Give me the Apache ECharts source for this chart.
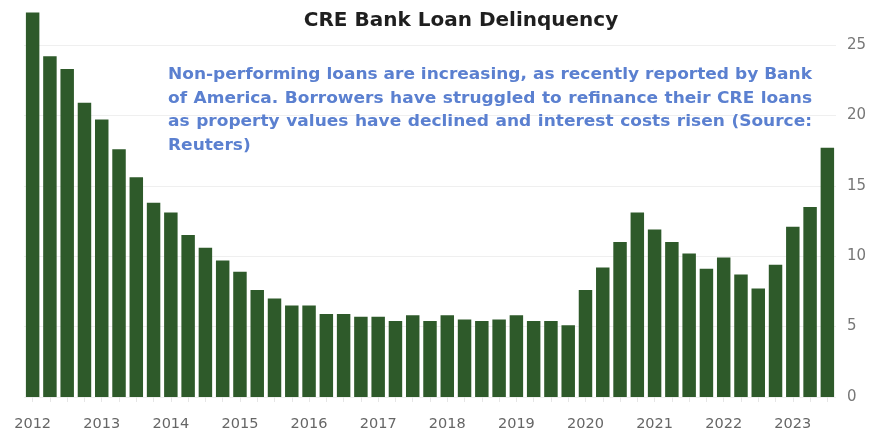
<!DOCTYPE html>
<html>
<head>
<meta charset="utf-8">
<title>CRE Bank Loan Delinquency</title>
<script src="https://cdn.jsdelivr.net/npm/echarts@6/dist/echarts.min.js"></script>
<style>
  html, body { margin: 0; padding: 0; background: #ffffff; }
  #chart { width: 891px; height: 435px; }
</style>
</head>
<body>
<div id="chart"></div>
<script>
// Quarterly CRE bank loan delinquency, 2012 Q1 to 2023 Q3
const years = [2012, 2013, 2014, 2015, 2016, 2017, 2018, 2019, 2020, 2021, 2022, 2023];
const quarters = ['Q1', 'Q2', 'Q3', 'Q4'];
const delinquency = [
  27.3, 24.2, 23.3, 20.9, 19.7, 17.6, 15.6, 13.8, 13.1, 11.5,
  10.6, 9.7, 8.9, 7.6, 7.0, 6.5, 6.5, 5.9, 5.9, 5.7,
  5.7, 5.4, 5.8, 5.4, 5.8, 5.5, 5.4, 5.5, 5.8, 5.4,
  5.4, 5.1, 7.6, 9.2, 11.0, 13.1, 11.9, 11.0, 10.2, 9.1,
  9.9, 8.7, 7.7, 9.4, 12.1, 13.5, 17.7
];
const yTicks = [0, 5, 10, 15, 20, 25];

const titleText = 'CRE Bank Loan Delinquency';
const noteLines = [
  'Non-performing loans are increasing, as recently reported by Bank',
  'of America. Borrowers have struggled to refinance their CRE loans',
  'as property values have declined and interest costs risen (Source:',
  'Reuters)'
];

// one category per quarter, labelled by year
const categories = [];
years.forEach(y => quarters.forEach(q => {
  if (categories.length < delinquency.length) categories.push(y + ' ' + q);
}));

// justified, slightly widened note text, laid out word by word
const noteFont = 'bold 15px "DejaVu Sans"';
const measureCtx = document.createElement('canvas').getContext('2d');
measureCtx.font = noteFont;
function noteGraphics(x0, x1, yStart, lineGap) {
  const space = measureCtx.measureText(' ').width;
  const natural = measureCtx.measureText(noteLines[0]).width;
  const sx = (x1 - x0) / natural;
  const out = [];
  noteLines.forEach((line, li) => {
    const words = line.split(' ');
    const widths = words.map(w => measureCtx.measureText(w).width * sx);
    const total = widths.reduce((a, b) => a + b, 0);
    const last = li === noteLines.length - 1;
    const gap = last ? space * sx : (x1 - x0 - total) / (words.length - 1);
    let x = x0;
    words.forEach((w, wi) => {
      out.push({
        type: 'text',
        x: x,
        y: yStart + li * lineGap,
        scaleX: sx,
        z: 100,
        silent: true,
        style: { text: w, font: noteFont, fill: '#5b80d0', verticalAlign: 'middle', align: 'left' }
      });
      x += widths[wi] + gap;
    });
  });
  return out;
}

const chart = echarts.init(document.getElementById('chart'), null, { renderer: 'canvas' });
chart.setOption({
  backgroundColor: '#ffffff',
  animation: false,
  title: {
    text: titleText,
    left: 456,
    top: 6,
    textAlign: 'center',
    textStyle: { fontFamily: 'DejaVu Sans', fontWeight: 'bold', fontSize: 20, color: '#1f1f1f' }
  },
  grid: { left: 24, right: 55, top: 45, bottom: 38 },
  xAxis: {
    type: 'category',
    data: categories,
    axisLine: { show: false },
    axisTick: { show: true, alignWithLabel: true, interval: 0, length: 5, lineStyle: { color: '#e6e6e6' } },
    axisLabel: {
      interval: i => i % 4 === 0,
      formatter: v => v.split(' ')[0],
      margin: 20,
      fontFamily: 'DejaVu Sans',
      fontSize: 14.5,
      color: '#666666'
    }
  },
  yAxis: {
    type: 'value',
    position: 'right',
    min: yTicks[0],
    max: yTicks[yTicks.length - 1],
    interval: 5,
    axisLine: { show: false },
    axisTick: { show: false },
    axisLabel: { margin: 11, fontFamily: 'DejaVu Sans', fontSize: 15, color: '#777777' },
    splitLine: { lineStyle: { color: '#efefef', width: 1 } }
  },
  series: [{
    type: 'bar',
    data: delinquency,
    clip: false,
    barCategoryGap: '22%',
    itemStyle: { color: '#2e5a2a' }
  }],
  graphic: { elements: noteGraphics(168, 812, 75, 23.7) }
});
</script>
</body>
</html>
